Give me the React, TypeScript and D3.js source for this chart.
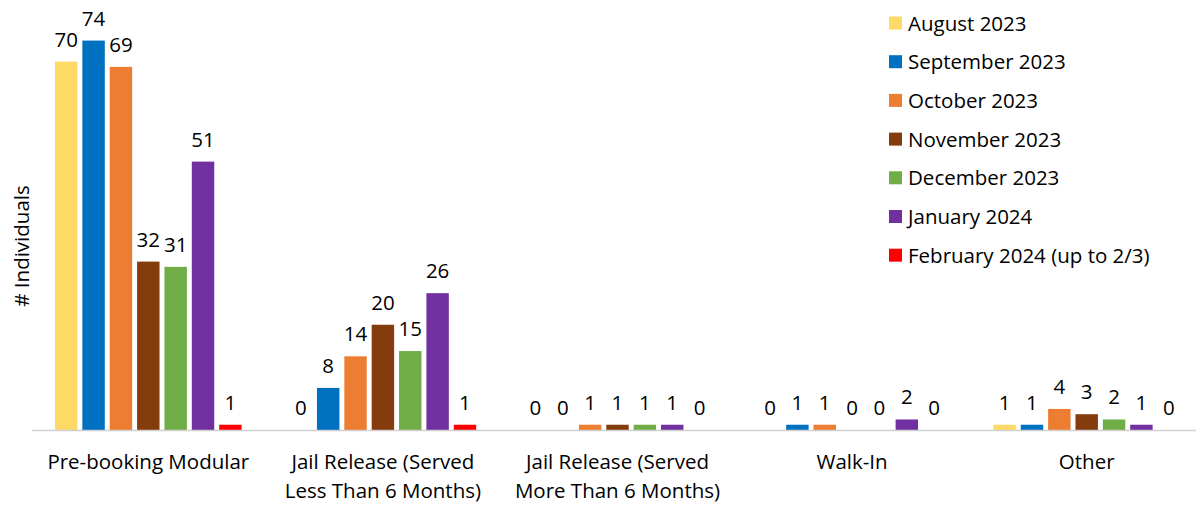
import React, { useEffect, useRef } from 'react';
import * as d3 from 'd3';

// chart data
const categories = [
  ['Pre-booking Modular'],
  ['Jail Release (Served', 'Less Than 6 Months)'],
  ['Jail Release (Served', 'More Than 6 Months)'],
  ['Walk-In'],
  ['Other'],
];
const months = [
  'August 2023',
  'September 2023',
  'October 2023',
  'November 2023',
  'December 2023',
  'January 2024',
  'February 2024 (up to 2/3)',
];
const colors = ['#FFD966', '#0070C0', '#ED7D31', '#843C0C', '#70AD47', '#7030A0', '#FF0000'];
// values[category][month]
const values = [
  [70, 74, 69, 32, 31, 51, 1],
  [0, 8, 14, 20, 15, 26, 1],
  [0, 0, 1, 1, 1, 1, 0],
  [0, 1, 1, 0, 0, 2, 0],
  [1, 1, 4, 3, 2, 1, 0],
];

const App = () => {
  const svgRef = useRef<SVGSVGElement>(null);

  useEffect(() => {
    const width = 1196;
    const height = 506;
    const font = '"Open Sans", sans-serif';
    const fontSize = 20.5;
    const left = 32;
    const right = 1205;
    const baseline = 430;

    const svg = d3.select(svgRef.current);
    svg.selectAll('*').remove();
    svg.attr('width', width).attr('height', height);

    const x0 = d3.scaleBand<number>()
      .domain(categories.map((_, i) => i))
      .range([left, right])
      .padding(0);

    const inset = 23;
    const x1 = d3.scaleBand<number>()
      .domain(months.map((_, i) => i))
      .range([inset, x0.bandwidth() - inset - 2])
      .paddingInner(0.18)
      .paddingOuter(0);

    const y = d3.scaleLinear().domain([0, 80]).range([baseline, 9]);

    // bars + labels
    const groups = svg.selectAll('g.cat')
      .data(values)
      .enter()
      .append('g')
      .attr('class', 'cat')
      .attr('transform', (_, i) => `translate(${x0(i)},0)`);

    groups.selectAll('rect')
      .data((d) => d.map((v, j) => ({ v, j })))
      .enter()
      .filter((d) => d.v > 0)
      .append('rect')
      .attr('x', (d) => x1(d.j))
      .attr('y', (d) => y(d.v))
      .attr('width', x1.bandwidth())
      .attr('height', (d) => baseline - y(d.v))
      .attr('fill', (d) => colors[d.j]);

    groups.selectAll('text.val')
      .data((d) => d.map((v, j) => ({ v, j })))
      .enter()
      .append('text')
      .attr('class', 'val')
      .attr('x', (d) => x1(d.j) + x1.bandwidth() / 2)
      .attr('y', (d) => y(d.v) - 15)
      .attr('text-anchor', 'middle')
      .attr('font-family', font)
      .attr('font-size', fontSize)
      .attr('fill', '#000')
      .text((d) => d.v);

    // x axis line
    svg.append('line')
      .attr('x1', left)
      .attr('x2', width)
      .attr('y1', baseline + 0.5)
      .attr('y2', baseline + 0.5)
      .attr('stroke', '#d0d0d0')
      .attr('stroke-width', 1.5);

    // category labels
    const catLabels = svg.selectAll('text.cat')
      .data(categories)
      .enter()
      .append('text')
      .attr('class', 'cat')
      .attr('x', (_, i) => x0(i) + x0.bandwidth() / 2 - 1)
      .attr('y', 469)
      .attr('text-anchor', 'middle')
      .attr('font-family', font)
      .attr('font-size', fontSize)
      .attr('fill', '#000');
    catLabels.selectAll('tspan')
      .data((d) => d)
      .enter()
      .append('tspan')
      .attr('x', function () {
        return (this.parentNode as SVGTextElement).getAttribute('x');
      })
      .attr('dy', (_, k) => (k === 0 ? 0 : 29))
      .text((d) => d);

    // y axis title
    svg.append('text')
      .attr('transform', 'translate(29,246) rotate(-90)')
      .attr('text-anchor', 'middle')
      .attr('font-family', font)
      .attr('font-size', fontSize)
      .attr('fill', '#000')
      .text('# Individuals');

    // legend
    const legend = svg.selectAll('g.leg')
      .data(months)
      .enter()
      .append('g')
      .attr('class', 'leg')
      .attr('transform', (_, i) => `translate(889,${23 + i * 38.7})`);
    legend.append('rect')
      .attr('x', 0)
      .attr('y', -6.5)
      .attr('width', 13)
      .attr('height', 13)
      .attr('fill', (_, i) => colors[i]);
    legend.append('text')
      .attr('x', 19)
      .attr('y', 7.5)
      .attr('font-family', font)
      .attr('font-size', fontSize)
      .attr('fill', '#000')
      .text((d) => d);
  }, []);

  return (
    <svg ref={svgRef} style={{ position: 'absolute', left: 0, top: 0, background: '#fff' }}></svg>
  );
};

export default App;
